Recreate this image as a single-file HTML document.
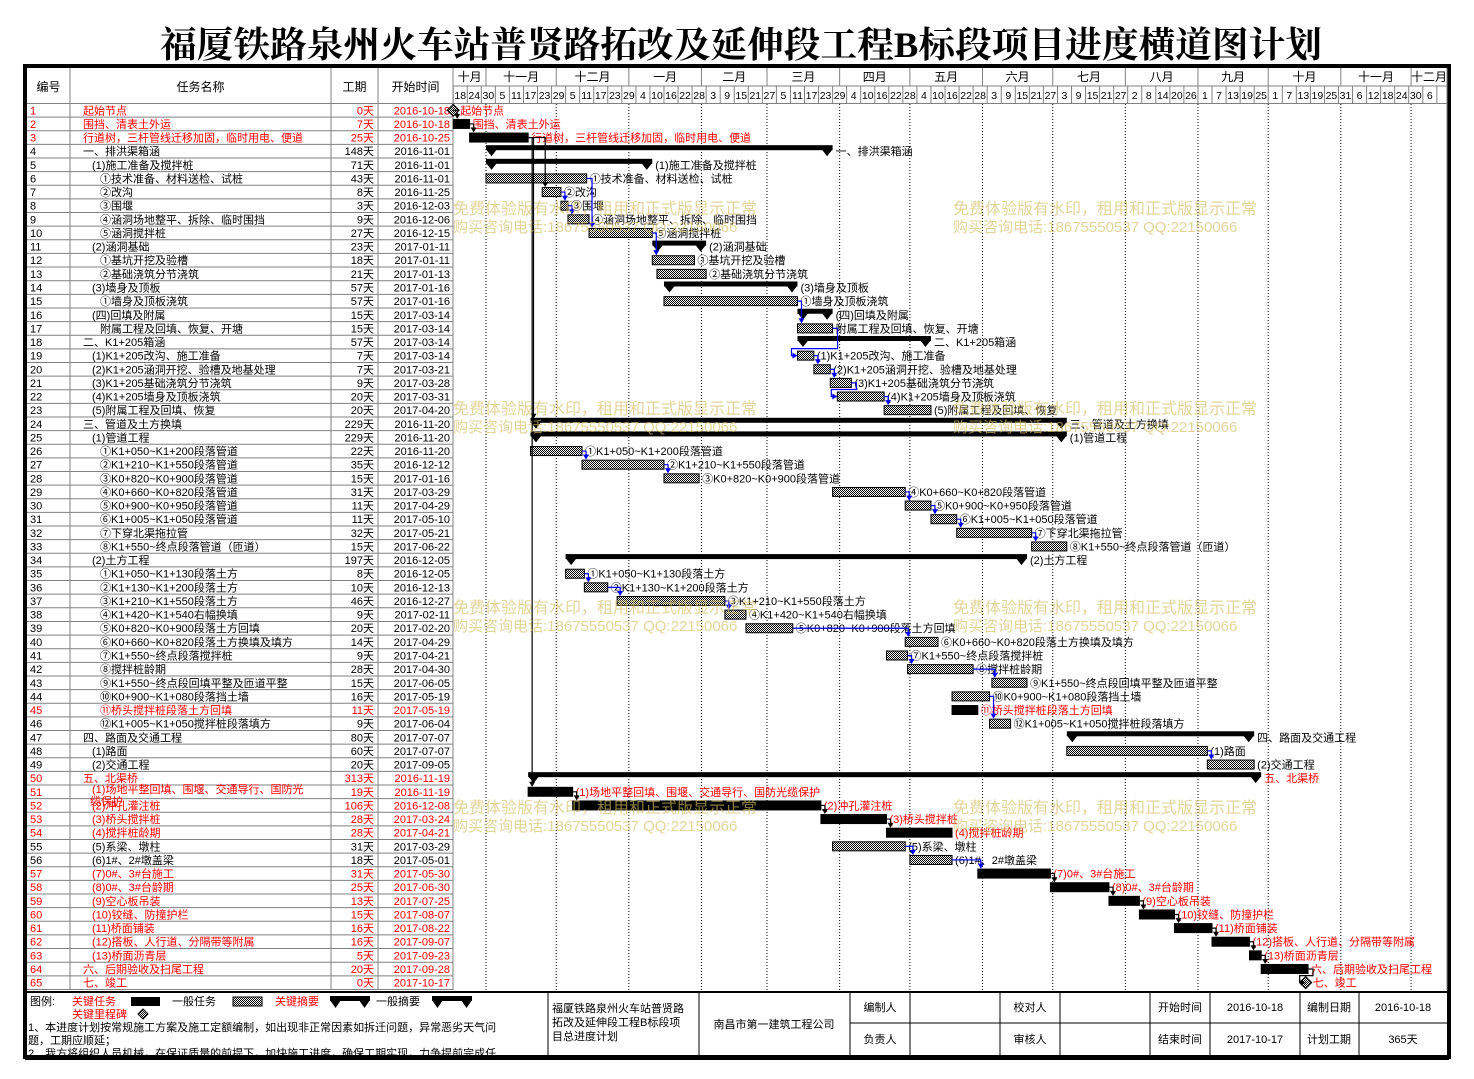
<!DOCTYPE html>
<html><head><meta charset="utf-8">
<style>
html,body{margin:0;padding:0;background:#fff;}
svg{display:block;font-family:"Liberation Sans","Noto Sans CJK SC",sans-serif;}
</style></head>
<body>
<svg id="chart" width="1474" height="1079" viewBox="0 0 1474 1079" xmlns="http://www.w3.org/2000/svg">
<defs>
<pattern id="hatch" width="2" height="2" patternUnits="userSpaceOnUse">
<rect width="2" height="2" fill="#fff"/><rect width="1" height="1" fill="#000"/><rect x="1" y="1" width="1" height="1" fill="#000"/>
</pattern>
</defs>
<text x="160" y="57" textLength="1162" lengthAdjust="spacingAndGlyphs" font-family="'Liberation Serif','Noto Serif CJK SC',serif" font-size="36" font-weight="bold" fill="#000">福厦铁路泉州火车站普贤路拓改及延伸段工程B标段项目进度横道图计划</text>
<g id="layer"></g>
</svg>
<script>
const taskNames=["起始节点","围挡、清表土外运","行道树，三杆管线迁移加固，临时用电、便道","一、排洪渠箱涵","(1)施工准备及搅拌桩","①技术准备、材料送检、试桩","②改沟","③围堰","④涵洞场地整平、拆除、临时围挡","⑤涵洞搅拌桩","(2)涵洞基础","①基坑开挖及验槽","②基础浇筑分节浇筑","(3)墙身及顶板","①墙身及顶板浇筑","(四)回填及附属","附属工程及回填、恢复、开塘","二、K1+205箱涵","(1)K1+205改沟、施工准备","(2)K1+205涵洞开挖、验槽及地基处理","(3)K1+205基础浇筑分节浇筑","(4)K1+205墙身及顶板浇筑","(5)附属工程及回填、恢复","三、管道及土方换填","(1)管道工程","①K1+050~K1+200段落管道","②K1+210~K1+550段落管道","③K0+820~K0+900段落管道","④K0+660~K0+820段落管道","⑤K0+900~K0+950段落管道","⑥K1+005~K1+050段落管道","⑦下穿北渠拖拉管","⑧K1+550~终点段落管道（匝道）","(2)土方工程","①K1+050~K1+130段落土方","②K1+130~K1+200段落土方","③K1+210~K1+550段落土方","④K1+420~K1+540右幅换填","⑤K0+820~K0+900段落土方回填","⑥K0+660~K0+820段落土方换填及填方","⑦K1+550~终点段落搅拌桩","⑧搅拌桩龄期","⑨K1+550~终点段回填平整及匝道平整","⑩K0+900~K1+080段落挡土墙","⑪桥头搅拌桩段落土方回填","⑫K1+005~K1+050搅拌桩段落填方","四、路面及交通工程","(1)路面","(2)交通工程","五、北渠桥","(1)场地平整回填、围堰、交通导行、国防光缆保护","(2)冲孔灌注桩","(3)桥头搅拌桩","(4)搅拌桩龄期","(5)系梁、墩柱","(6)1#、2#墩盖梁","(7)0#、3#台施工","(8)0#、3#台龄期","(9)空心板吊装","(10)铰缝、防撞护栏","(11)桥面铺装","(12)搭板、人行道、分隔带等附属","(13)桥面沥青层","六、后期验收及扫尾工程","七、竣工"];
const durations=[0,7,25,148,71,43,8,3,9,27,23,18,21,57,57,15,15,57,7,7,9,20,20,229,229,22,35,15,31,11,11,32,15,197,8,10,46,9,20,14,9,28,15,16,11,9,80,60,20,313,19,106,28,28,31,18,31,25,13,15,16,16,5,20,0];
const startDates=["2016-10-18","2016-10-18","2016-10-25","2016-11-01","2016-11-01","2016-11-01","2016-11-25","2016-12-03","2016-12-06","2016-12-15","2017-01-11","2017-01-11","2017-01-13","2017-01-16","2017-01-16","2017-03-14","2017-03-14","2017-03-14","2017-03-14","2017-03-21","2017-03-28","2017-03-31","2017-04-20","2016-11-20","2016-11-20","2016-11-20","2016-12-12","2017-01-16","2017-03-29","2017-04-29","2017-05-10","2017-05-21","2017-06-22","2016-12-05","2016-12-05","2016-12-13","2016-12-27","2017-02-11","2017-02-20","2017-04-29","2017-04-21","2017-04-30","2017-06-05","2017-05-19","2017-05-19","2017-06-04","2017-07-07","2017-07-07","2017-09-05","2016-11-19","2016-11-19","2016-12-08","2017-03-24","2017-04-21","2017-03-29","2017-05-01","2017-05-30","2017-06-30","2017-07-25","2017-08-07","2017-08-22","2017-09-07","2017-09-23","2017-09-28","2017-10-17"];
const taskTypes=["m","c","c","s","s","t","t","t","t","t","s","t","t","s","t","s","t","s","t","t","t","t","t","s","s","t","t","t","t","t","t","t","t","s","t","t","t","t","t","t","t","t","t","t","c","t","s","t","t","cs","c","c","c","c","t","t","c","c","c","c","c","c","c","c","m"];
const indents=[0,0,0,0,1,2,2,2,2,2,1,2,2,1,2,1,2,0,1,1,1,1,1,0,1,2,2,2,2,2,2,2,2,1,2,2,2,2,2,2,2,2,2,2,2,2,0,1,1,0,1,1,1,1,1,1,1,1,1,1,1,1,1,0,0];
const redRows=[1,2,3,45,50,51,52,53,54,57,58,59,60,61,62,63,64,65];
const monthNames=["十月","十一月","十二月","一月","二月","三月","四月","五月","六月","七月","八月","九月","十月","十一月","十二月"];
const links=[[1,2],[2,3],[3,7],[3,24],[3,51],[6,10],[7,8],[8,9],[10,12],[15,17],[17,19],[19,20],[20,21],[21,22],[22,23],[26,27],[27,28],[29,30],[30,31],[31,32],[32,33],[35,36],[36,37],[37,38],[39,40],[41,42],[42,43],[44,46],[48,49],[51,52],[52,53],[53,54],[55,56],[56,57],[57,58],[58,59],[59,60],[60,61],[61,62],[62,63],[63,64],[64,65]];

const NS="http://www.w3.org/2000/svg";
const layer=document.getElementById('layer');
function mk(tag,attrs,parent){const e=document.createElementNS(NS,tag);for(const a in attrs)e.setAttribute(a,attrs[a]);(parent||layer).appendChild(e);return e;}
const BASE=Date.UTC(2016,9,18);
function dayIdx(s){const p=s.split('-').map(Number);return (Date.UTC(p[0],p[1]-1,p[2])-BASE)/86400000;}
const X0=453.2,K=2.342,CL=453,CR=1447;
function xOfDay(d){return X0+d*K;}
const ROW0=103.5,RH=13.63;
function rowTop(i){return ROW0+i*RH;}
function rowC(i){return rowTop(i)+6.8;}
const FONT='"Liberation Sans","Noto Sans CJK SC",sans-serif';

// frame
let e;
e=mk('rect',{x:25,y:66,width:1424,height:991,fill:'none',stroke:'#000','stroke-width':4});

// header column lines
const colX=[27,70,331,378,453];
const hdr=["编号","任务名称","工期","开始时间"];
for(let i=0;i<4;i++){
  e=mk('text',{x:(colX[i]+colX[i+1])/2,y:91,'text-anchor':'middle','font-size':12,fill:'#000'});e.textContent=hdr[i];
  
}
for(const x of colX.slice(1)){e=mk('line',{x1:x,y1:68,x2:x,y2:990,stroke:'#808080','stroke-width':1});}
e=mk('line',{x1:27,y1:103.5,x2:CR,y2:103.5,stroke:'#808080'});
e=mk('line',{x1:CL,y1:86,x2:CR,y2:86,stroke:'#808080'});
e=mk('line',{x1:CR,y1:68,x2:CR,y2:990,stroke:'#808080'});

// months
let mStarts=[0];
for(let m=0;m<14;m++){const y=2016+Math.floor((10+m)/12),mo=(10+m)%12;mStarts.push((Date.UTC(y,mo,1)-BASE)/86400000);}
for(let i=0;i<monthNames.length;i++){
  const a=Math.max(CL,xOfDay(mStarts[i])),b=i+1<mStarts.length?xOfDay(mStarts[i+1]):CR;
  e=mk('text',{x:(a+Math.min(b,CR))/2,y:81,'text-anchor':'middle','font-size':12,fill:'#000'});e.textContent=monthNames[i];
  
  if(i>0){
    e=mk('line',{x1:a,y1:68,x2:a,y2:86,stroke:'#808080'});
    e=mk('line',{x1:a,y1:104,x2:a,y2:990,stroke:'#000','stroke-dasharray':'1,2'});
  }
}
// day cells
for(let i=0;i<71;i++){
  const d=i*6,x=xOfDay(d);
  e=mk('line',{x1:x,y1:86,x2:x,y2:103.5,stroke:'#808080'});
  if(i<70){
    const dt=new Date(BASE+d*86400000);
    e=mk('text',{x:x+6*K/2,y:99,'text-anchor':'middle','font-size':10.5,fill:'#000'});e.textContent=dt.getUTCDate();
    
  }
}

// rows
for(let i=0;i<taskNames.length;i++){
  const id=i+1,red=redRows.includes(id),col=red?'#ff0000':'#000',c=rowC(i);
  e=mk('line',{x1:27,y1:rowTop(i+1),x2:CL,y2:rowTop(i+1),stroke:'#808080'});
  e=mk('text',{x:30,y:c+4,'font-size':11,fill:col});e.textContent=id;
  
  const nx=[83,92,100][indents[i]];
  e=mk('text',{x:nx,y:c+4,'font-size':11,fill:col});
  if(id===51){e.setAttribute('y',c+1);e.textContent='(1)场地平整回填、围堰、交通导行、国防光';
    const t2=mk('text',{x:90,y:c+13,'font-size':11,fill:col});t2.textContent='缆保护';}
  else e.textContent=taskNames[i];
  
  e=mk('text',{x:374,y:c+4,'text-anchor':'end','font-size':11,fill:col});e.textContent=durations[i]+'天';
  
  e=mk('text',{x:450,y:c+4,'text-anchor':'end','font-size':11,fill:col});e.textContent=startDates[i];
  
}

// bars
const barEnd=[],barStart=[];
for(let i=0;i<taskNames.length;i++){
  const id=i+1,red=redRows.includes(id),col=red?'#ff0000':'#000',c=rowC(i),ty=taskTypes[i];
  const x1=xOfDay(dayIdx(startDates[i])),x2=xOfDay(dayIdx(startDates[i])+durations[i]);
  barStart.push(x1);barEnd.push(x2);
  let lx=x2+3,label=taskNames[i];
  if(ty==='m'){
    e=mk('polygon',{points:`${x1},${c-6} ${x1+6},${c} ${x1},${c+6} ${x1-6},${c}`,fill:'url(#hatch)',stroke:'#000'});
    lx=x1+7;
  }else if(ty==='s'||ty==='cs'){
    const g=mk('g',{});
    
    mk('rect',{x:x1,y:c-6,width:x2-x1,height:5,fill:'#000'},g);
    mk('polygon',{points:`${x1},${c-2} ${x1+11},${c-2} ${x1+5.5},${c+5}`,fill:'#000'},g);
    mk('polygon',{points:`${x2-11},${c-2} ${x2},${c-2} ${x2-5.5},${c+5}`,fill:'#000'},g);
    lx=x2+3;
  }else{
    e=mk('rect',{x:x1,y:c-4.5,width:Math.max(1,x2-x1),height:9,fill:ty==='c'?'#000':'url(#hatch)',stroke:'#000','stroke-width':1});
    
  }
  e=mk('text',{x:lx,y:c+4,'font-size':11,fill:col});e.textContent=label;
  
}
// links
for(const [p,s] of links){
  const pi=p-1,si=s-1,col=redRows.includes(p)?'#000':'#0000ff';
  const pe=barEnd[pi],py=rowC(pi),ss=barStart[si],sy=rowC(si);
  let d,arrow;
  if(ss>=pe-1){const ax=Math.max(ss+3,pe+4);d=`M${pe},${py} H${ax} V${sy-6}`;arrow=`${ax-3},${sy-10} ${ax+3},${sy-10} ${ax},${sy-5}`;}
  else{d=`M${pe},${py} H${pe+5} V${sy-7} H${ss-6} V${sy} H${ss-1}`;arrow=`${ss-5},${sy-3} ${ss-5},${sy+3} ${ss},${sy}`;}
  e=mk('path',{d:d,fill:'none',stroke:col,'stroke-width':1.2});
  e=mk('polygon',{points:arrow,fill:col});
}
// watermarks
for(const wy of [208,408,607,807]){for(const wx of [453,953]){
  e=mk('text',{x:wx,y:wy+6,'font-size':16,fill:'rgba(210,190,100,0.65)'});e.textContent='免费体验版有水印，租用和正式版显示正常';
  
  e=mk('text',{x:wx,y:wy+24,'font-size':15,fill:'rgba(210,190,100,0.65)'});e.textContent='购买咨询电话:18675550537 QQ:22150066';
  
}}
// footer
e=mk('line',{x1:25,y1:992,x2:1449,y2:992,stroke:'#000','stroke-width':2});
for(const x of [548,699,850,910,1000,1060,1150,1210,1300,1359]){e=mk('line',{x1:x,y1:992,x2:x,y2:1055,stroke:'#000'});}
e=mk('line',{x1:850,y1:1023,x2:1447,y2:1023,stroke:'#000'});
function txt(x,y,s,col,name,size,anchor){const t=mk('text',{x:x,y:y,'font-size':size||11,fill:col||'#000','text-anchor':anchor||'start'});t.textContent=s;return t;}
txt(30,1005,'图例:','#000','legend-title');
txt(72,1005,'关键任务','#ff0000','legend-critical-task');
e=mk('rect',{x:131,y:997,width:29,height:9,fill:'#000'});
txt(172,1005,'一般任务','#000','legend-general-task');
e=mk('rect',{x:233,y:997,width:29,height:9,fill:'url(#hatch)',stroke:'#000'});
txt(275,1005,'关键摘要','#ff0000','legend-critical-summary');
txt(376,1005,'一般摘要','#000','legend-general-summary');
for(const sx of [330,432]){const g=mk('g',{});
  mk('rect',{x:sx,y:996,width:40,height:5,fill:'#000'},g);
  mk('polygon',{points:`${sx},${1000} ${sx+11},${1000} ${sx+5.5},${1008}`,fill:'#000'},g);
  mk('polygon',{points:`${sx+29},${1000} ${sx+40},${1000} ${sx+34.5},${1008}`,fill:'#000'},g);}
txt(72,1018,'关键里程碑','#ff0000','legend-milestone');
e=mk('polygon',{points:'143,1009 148,1014 143,1019 138,1014',fill:'url(#hatch)',stroke:'#000'});
txt(28,1031,'1、本进度计划按常规施工方案及施工定额编制，如出现非正常因素如拆迁问题，异常恶劣天气问','#000','note-line');
txt(28,1044,'题，工期应顺延；','#000','note-line');
txt(28,1057,'2、我方将组织人员机械，在保证质量的前提下，加快施工进度，确保工期实现，力争提前完成任','#000','note-line');
txt(552,1012,'福厦铁路泉州火车站普贤路','#000','project-name');
txt(552,1026,'拓改及延伸段工程B标段项','#000','project-name');
txt(552,1040,'目总进度计划','#000','project-name');
txt(774,1028,'南昌市第一建筑工程公司','#000','company-name',11,'middle');
const fcells=[[880,'编制人'],[1030,'校对人'],[1180,'开始时间'],[1255,'2016-10-18'],[1329,'编制日期'],[1403,'2016-10-18']];
const fcells2=[[880,'负责人'],[1030,'审核人'],[1180,'结束时间'],[1255,'2017-10-17'],[1329,'计划工期'],[1403,'365天']];
for(const [x,s] of fcells)txt(x,1011,s,'#000','footer-cell',11,'middle');
for(const [x,s] of fcells2)txt(x,1043,s,'#000','footer-cell',11,'middle');
e=mk('rect',{x:25,y:1057,width:1424,height:3,fill:'#000'});
</script>
</body></html>
